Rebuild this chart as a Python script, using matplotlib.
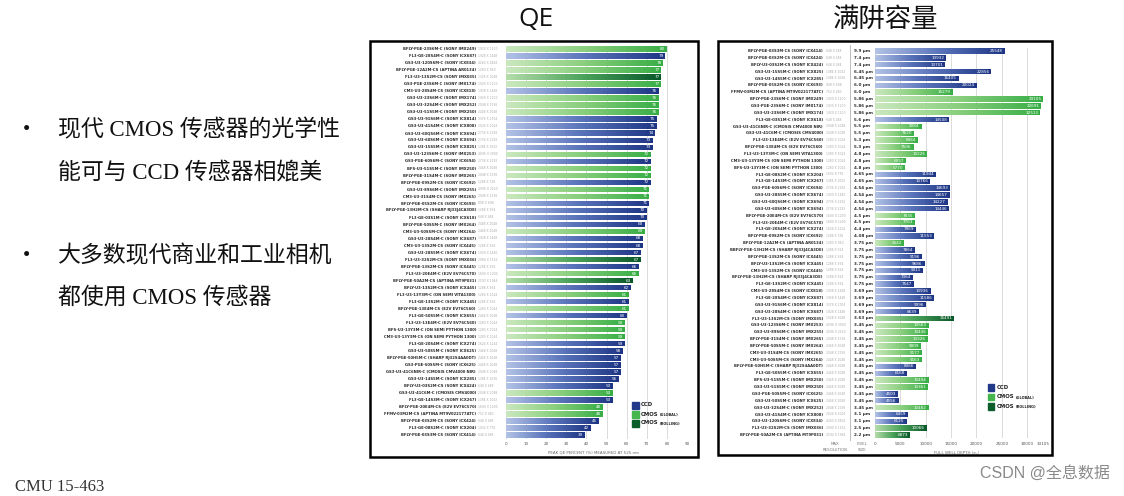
import numpy as np
import matplotlib
matplotlib.use("Agg")
import matplotlib.pyplot as plt
from matplotlib.colors import LinearSegmentedColormap
from matplotlib.patches import Rectangle
from matplotlib.lines import Line2D
from matplotlib.transforms import blended_transform_factory

# ---------------- data: QE chart ----------------
qe_names = [
    "BFLY-PGE-23S6M-C (SONY IMX249)", "FL3-GE-28S4M-C (SONY ICX687)", "GS3-U3-120S6M-C (SONY ICX834)",
    "BFLY-PGE-12A2M-CS (APTINA AR0134)", "FL3-U3-13S2M-CS (SONY IMX035)", "GS3-PGE-23S6M-C (SONY IMX174)",
    "CM3-U3-28S4M-CS (SONY ICX818)", "GS3-U3-23S6M-C (SONY IMX174)", "GS3-U3-32S4M-C (SONY IMX252)",
    "GS3-U3-51S5M-C (SONY IMX250)", "GS3-U3-91S6M-C (SONY ICX814)", "GS3-U3-41S4M-C (SONY ICX808)",
    "GS3-U3-60QS6M-C (SONY ICX694)", "GS3-U3-60S6M-C (SONY ICX694)", "GS3-U3-15S5M-C (SONY ICX825)",
    "GS3-U3-123S6M-C (SONY IMX253)", "GS3-PGE-60S6M-C (SONY ICX694)", "BFS-U3-51S5M-C (SONY IMX250)",
    "BFLY-PGE-31S4M-C (SONY IMX265)", "BFLY-PGE-09S2M-CS (SONY ICX692)", "GS3-U3-89S6M-C (SONY IMX255)",
    "CM3-U3-31S4M-CS (SONY IMX265)", "BFLY-PGE-05S2M-CS (SONY ICX693)", "BFLY-PGE-13H2M-CS (SHARP RJ33J4CA3DE)",
    "FL3-GE-03S1M-C (SONY ICX618)", "BFLY-PGE-50S5M-C (SONY IMX264)", "CM3-U3-50S5M-CS (SONY IMX264)",
    "GS3-U3-28S4M-C (SONY ICX687)", "CM3-U3-13S2M-CS (SONY ICX445)", "GS3-U3-28S5M-C (SONY ICX674)",
    "FL3-U3-32S2M-CS (SONY IMX036)", "BFLY-PGE-13S2M-CS (SONY ICX445)", "FL3-U3-20E4M-C (E2V EV76C570)",
    "BFLY-PGE-50A2M-CS (APTINA MT9P031)", "BFLY-U3-13S2M-CS (SONY ICX445)", "FL3-U3-13Y3M-C (ON SEMI VITA1300)",
    "FL3-GE-13S2M-C (SONY ICX445)", "BFLY-PGE-13E4M-CS (E2V EV76C560)", "FL3-GE-50S5M-C (SONY ICX655)",
    "FL3-U3-13E4M-C (E2V EV76C560)", "BFS-U3-13Y3M-C (ON SEMI PYTHON 1300)", "CM3-U3-13Y3M-CS (ON SEMI PYTHON 1300)",
    "FL3-GE-20S4M-C (SONY ICX274)", "GS3-U3-50S5M-C (SONY ICX625)", "BFLY-PGE-50H5M-C (SHARP RJ32S4AA0DT)",
    "GS3-PGE-50S5M-C (SONY ICX625)", "GS3-U3-41C6NIR-C (CMOSIS CMV4000 NIR)", "GS3-U3-14S5M-C (SONY ICX285)",
    "BFLY-U3-03S2M-CS (SONY ICX424)", "GS3-U3-41C6M-C (CMOSIS CMV4000)", "FL3-GE-14S3M-C (SONY ICX267)",
    "BFLY-PGE-20E4M-CS (E2V EV76C570)", "FFMV-03M2M-CS (APTINA MT9V022177ATC)", "BFLY-PGE-03S2M-CS (SONY ICX424)",
    "FL3-GE-08S2M-C (SONY ICX204)", "BFLY-PGE-03S3M-CS (SONY ICX414)",
]
qe_res = [
    "1920 X 1200", "1928 X 1448", "4240 X 2824", "1280 X 960", "1328 X 1048", "1920 X 1200",
    "1928 X 1448", "1920 X 1200", "2048 X 1536", "2448 X 2048", "3376 X 2704", "2024 X 2024",
    "2736 X 2192", "2736 X 2192", "1384 X 1032", "4096 X 3000", "2736 X 2192", "2448 X 2048",
    "2048 X 1536", "1288 X 728", "4096 X 2160", "2048 X 1536", "808 X 608", "1288 X 964",
    "648 X 488", "2448 X 2048", "2448 X 2048", "1928 X 1448", "1288 X 964", "1920 X 1440",
    "2080 X 1552", "1288 X 964", "1600 X 1200", "2592 X 1944", "1288 X 964", "1280 X 1024",
    "1288 X 964", "1280 X 1024", "2448 X 2048", "1280 X 1024", "1280 X 1024", "1280 X 1024",
    "1624 X 1224", "2448 X 2048", "2448 X 2048", "2448 X 2048", "2048 X 2048", "1384 X 1036",
    "648 X 488", "2048 X 2048", "1384 X 1032", "1600 X 1200", "752 X 480", "648 X 488",
    "1032 X 776", "648 X 488",
]
qe_values = [80, 79, 78, 77, 77, 77, 76, 76, 76, 76, 75, 75, 74, 73, 73, 72, 72, 72, 72, 72,
             71, 71, 71, 70, 70, 69, 69, 68, 68, 67, 67, 66, 66, 63, 62, 61, 61, 61, 60, 59,
             59, 59, 59, 58, 57, 57, 57, 56, 53, 53, 53, 48, 48, 46, 42, 39]
# C = CCD, G = CMOS (global), R = CMOS (rolling)
qe_types = list("GCGGRGCGGGCCCCCGCGGCGGCCCCGCCCRCGRCGCGCGGGCCCCCCCGCGGCCC")
qe_ticks = [0, 10, 20, 30, 40, 50, 60, 70, 80, 90]

# ---------------- data: full well chart ----------------
fwd_names = [
    "BFLY-PGE-03S3M-CS (SONY ICX414)", "BFLY-PGE-03S2M-CS (SONY ICX424)", "BFLY-U3-03S2M-CS (SONY ICX424)",
    "GS3-U3-15S5M-C (SONY ICX825)", "GS3-U3-14S5M-C (SONY ICX285)", "BFLY-PGE-05S2M-CS (SONY ICX693)",
    "FFMV-03M2M-CS (APTINA MT9V022177ATC)", "BFLY-PGE-23S6M-C (SONY IMX249)", "GS3-PGE-23S6M-C (SONY IMX174)",
    "GS3-U3-23S6M-C (SONY IMX174)", "FL3-GE-03S1M-C (SONY ICX618)", "GS3-U3-41C6NIR-C (CMOSIS CMV4000 NIR)",
    "GS3-U3-41C6M-C (CMOSIS CMV4000)", "FL3-U3-13E4M-C (E2V EV76C560)", "BFLY-PGE-13E4M-CS (E2V EV76C560)",
    "FL3-U3-13Y3M-C (ON SEMI VITA1300)", "CM3-U3-13Y3M-CS (ON SEMI PYTHON 1300)", "BFS-U3-13Y3M-C (ON SEMI PYTHON 1300)",
    "FL3-GE-08S2M-C (SONY ICX204)", "FL3-GE-14S3M-C (SONY ICX267)", "GS3-PGE-60S6M-C (SONY ICX694)",
    "GS3-U3-28S5M-C (SONY ICX674)", "GS3-U3-60QS6M-C (SONY ICX694)", "GS3-U3-60S6M-C (SONY ICX694)",
    "BFLY-PGE-20E4M-CS (E2V EV76C570)", "FL3-U3-20E4M-C (E2V EV76C570)", "FL3-GE-20S4M-C (SONY ICX274)",
    "BFLY-PGE-09S2M-CS (SONY ICX692)", "BFLY-PGE-12A2M-CS (APTINA AR0134)", "BBFLY-PGE-13H2M-CS (SHARP RJ33J4CA3DE)",
    "BFLY-PGE-13S2M-CS (SONY ICX445)", "BFLY-U3-13S2M-CS (SONY ICX445)", "CM3-U3-13S2M-CS (SONY ICX445)",
    "BFLY-PGE-13H2M-CS (SHARP RJ33J4CA3DE)", "FL3-GE-13S2M-C (SONY ICX445)", "CM3-U3-28S4M-CS (SONY ICX818)",
    "FL3-GE-28S4M-C (SONY ICX687)", "GS3-U3-91S6M-C (SONY ICX814)", "GS3-U3-28S4M-C (SONY ICX687)",
    "FL3-U3-13S2M-CS (SONY IMX035)", "GS3-U3-123S6M-C (SONY IMX253)", "GS3-U3-89S6M-C (SONY IMX255)",
    "BFLY-PGE-31S4M-C (SONY IMX265)", "BFLY-PGE-50S5M-C (SONY IMX264)", "CM3-U3-31S4M-CS (SONY IMX265)",
    "CM3-U3-50S5M-CS (SONY IMX264)", "BFLY-PGE-50H5M-C (SHARP RJ32S4AA0DT)", "FL3-GE-50S5M-C (SONY ICX655)",
    "BFS-U3-51S5M-C (SONY IMX250)", "GS3-U3-51S5M-C (SONY IMX250)", "GS3-PGE-50S5M-C (SONY ICX625)",
    "GS3-U3-50S5M-C (SONY ICX625)", "GS3-U3-32S4M-C (SONY IMX252)", "GS3-U3-41S4M-C (SONY ICX808)",
    "GS3-U3-120S6M-C (SONY ICX834)", "FL3-U3-32S2M-CS (SONY IMX036)", "BFLY-PGE-50A2M-CS (APTINA MT9P031)",
]
fwd_res = [
    "648 X 488", "648 X 488", "648 X 488", "1384 X 1032", "1384 X 1036", "808 X 608",
    "752 X 480", "1920 X 1200", "1920 X 1200", "1920 X 1200", "648 X 488", "2048 X 2048",
    "2048 X 2048", "1280 X 1024", "1280 X 1024", "1280 X 1024", "1280 X 1024", "1280 X 1024",
    "1032 X 776", "1384 X 1032", "2736 X 2192", "1920 X 1440", "2736 X 2192", "2736 X 2192",
    "1600 X 1200", "1600 X 1200", "1624 X 1224", "1288 X 728", "1280 X 960", "1288 X 964",
    "1288 X 964", "1288 X 964", "1288 X 964", "1288 X 964", "1288 X 964", "1928 X 1448",
    "1928 X 1448", "3376 X 2704", "1928 X 1448", "1328 X 1048", "4096 X 3000", "4096 X 2160",
    "2048 X 1536", "2448 X 2048", "2048 X 1536", "2448 X 2048", "2448 X 2048", "2448 X 2048",
    "2448 X 2048", "2448 X 2048", "2448 X 2048", "2448 X 2048", "2048 X 1536", "2024 X 2024",
    "4240 X 2824", "2080 X 1552", "2592 X 1944",
]
fwd_pixel = ["9.9", "7.4", "7.4", "6.45", "6.45", "6.0", "6.0", "5.86", "5.86", "5.86", "5.6", "5.5",
             "5.5", "5.3", "5.3", "4.8", "4.8", "4.8", "4.65", "4.65", "4.54", "4.54", "4.54", "4.54",
             "4.5", "4.5", "4.4", "4.08", "3.75", "3.75", "3.75", "3.75", "3.75", "3.75", "3.75", "3.69",
             "3.69", "3.69", "3.69", "3.63", "3.45", "3.45", "3.45", "3.45", "3.45", "3.45", "3.45", "3.45",
             "3.45", "3.45", "3.45", "3.45", "3.45", "3.1", "3.1", "2.5", "2.2"]
fwd_values = [25548, 13932, 13701, 22856, 16405, 20024, 15279, 33105, 32691, 32513, 14508, 9084,
              7620, 8364, 7506, 10226, 6057, 5770, 11944, 10766, 14693, 14657, 14227, 14446,
              7835, 7763, 7969, 11553, 5542, 7864, 9196, 9686, 9311, 7364, 7547, 10936,
              11586, 9996, 8639, 15491, 10563, 10436, 10326, 9009, 9177, 9163, 8066, 6168,
              10494, 10361, 4503, 4556, 10482, 6459, 6125, 10066, 6873]
fwd_types = list("CCCCCCGGGGCGGGGGGGCCCCCCGGCCGCCCCCCCCCCRGGGGGGCCGGCCGCCRR")
fwd_ticks = [0, 5000, 10000, 15000, 20000, 25000, 30000, 33105]

legend_labels = [("CCD", ""), ("CMOS", "(GLOBAL)"), ("CMOS", "(ROLLING)")]

# ---------------- styling ----------------
W, H = 1124, 496
fig = plt.figure(figsize=(W / 100, H / 100), dpi=100)
fig.patch.set_facecolor("white")
renderer = fig.canvas.get_renderer()

def fx(px):
    return px / W

def fy(py):
    return 1 - py / H

cmaps = {
    "C": LinearSegmentedColormap.from_list("ccd", ["#b3c3e6", "#5a74bb", "#1d3584"]),
    "G": LinearSegmentedColormap.from_list("glob", ["#cbe8bf", "#8acf7e", "#37ae45"]),
    "R": LinearSegmentedColormap.from_list("roll", ["#b5ddaa", "#4ba35a", "#09582a"]),
}
solid = {"C": "#22398a", "G": "#3fb24a", "R": "#0b5d2c"}
grad = np.linspace(0, 1, 256).reshape(1, -1)


def bar_chart(ax, names, res, vals, types, ticks, xmax, name_x, res_x, val_off):
    n = len(vals)
    y = np.arange(n)
    h = 0.78
    bars = ax.barh(y, vals, height=h, color=[solid[t] for t in types], zorder=2, linewidth=0)
    for b, v, t in zip(bars, vals, types):
        yc = b.get_y() + b.get_height() / 2
        im = ax.imshow(grad, cmap=cmaps[t], extent=(0, v, yc + h / 2, yc - h / 2),
                       aspect="auto", interpolation="bilinear", zorder=3)
        im.set_clip_path(b)
        ax.text(v - val_off, yc, str(v), ha="right", va="center", color="white",
                fontsize=3.0, zorder=4)
    ax.set_xlim(0, xmax)
    ax.set_ylim(n - 0.5, -0.5)
    ax.set_xticks(ticks)
    ax.set_xticklabels([str(t) for t in ticks], fontsize=3.0, color="#555555")
    ax.set_yticks([])
    ax.tick_params(axis="x", length=0, pad=2.5)
    for s in ax.spines.values():
        s.set_visible(False)
    ax.grid(axis="x", color="#d6d6d6", linewidth=0.6, zorder=0)
    ax.set_axisbelow(True)
    tr = blended_transform_factory(fig.transFigure, ax.transData)
    for i in range(n):
        ax.text(fx(name_x), i, names[i], transform=tr, ha="right", va="center",
                fontsize=2.7, color="#2b2b2b", fontweight="bold")
        ax.text(fx(res_x), i, res[i], transform=tr, ha="left", va="center",
                fontsize=2.2, color="#a8a8a8")
    return tr


# ---------------- left chart: QE ----------------
ax1 = fig.add_axes([fx(506), fy(438.5), (687 - 506) / W, (438.5 - 45.5) / H])
bar_chart(ax1, qe_names, qe_res, qe_values, qe_types, qe_ticks, 90, 476, 478.5, 0.7)
fig.text(fx(594), fy(453), "PEAK QE PERCENT (%) MEASURED AT 525 nm", ha="center", va="center",
         fontsize=2.9, color="#666666")
fig.add_artist(Rectangle((fx(370), fy(457)), (698 - 370) / W, (457 - 41) / H,
                         transform=fig.transFigure, fill=False, ec="black", lw=1.8))

# ---------------- right chart: full well ----------------
ax2 = fig.add_axes([fx(875), fy(438.4), (1043 - 875) / W, (438.4 - 47.6) / H])
tr2 = bar_chart(ax2, fwd_names, fwd_res, fwd_values, fwd_types, fwd_ticks, 33105, 823, 825.5, 300)
for i, p in enumerate(fwd_pixel):
    ax2.text(fx(854), i, p + " µm", transform=tr2, ha="left", va="center",
             fontsize=3.0, color="#2b2b2b", fontweight="bold")
fig.add_artist(Line2D([fx(850), fx(850)], [fy(45), fy(440)], transform=fig.transFigure,
                      color="#bdbdbd", lw=0.7))
fig.text(fx(835), fy(447), "MAX\nRESOLUTION", ha="center", va="center", fontsize=2.8,
         color="#777777", linespacing=1.5)
fig.text(fx(862), fy(447), "PIXEL\nSIZE", ha="center", va="center", fontsize=2.8,
         color="#777777", linespacing=1.5)
fig.text(fx(957), fy(452.5), "FULL WELL DEPTH (e-)", ha="center", va="center",
         fontsize=2.9, color="#666666")
fig.add_artist(Rectangle((fx(718), fy(455)), (1052 - 718) / W, (455 - 41) / H,
                         transform=fig.transFigure, fill=False, ec="black", lw=1.8))

# ---------------- legends ----------------
def draw_legend(sq_x, txt_x, ys, size):
    for (main, sub), t, yy in zip(legend_labels, ["C", "G", "R"], ys):
        fig.add_artist(Rectangle((fx(sq_x), fy(yy + size / 2)), size / W, size / H,
                                 transform=fig.transFigure,
                                 color=solid[t] if t != "G" else "#45b64d"))
        tm = fig.text(fx(txt_x), fy(yy), main, ha="left", va="center", fontsize=3.9,
                      color="#222222", fontweight="bold")
        if sub:
            bb = tm.get_window_extent(renderer=renderer)
            fig.text((bb.x1 + 1.5) / W, fy(yy + 0.4), sub, ha="left", va="center", fontsize=2.5,
                     color="#222222", fontweight="bold")

draw_legend(631.5, 641, [405, 414, 423], 7)
draw_legend(987.5, 997, [387.5, 397, 406.5], 6.5)

# ---------------- titles and slide text ----------------
fig.text(fx(536), fy(19), "QE", ha="center", va="center", fontsize=19,
         family=["Open Sans", "DejaVu Sans"], color="#111111")
fig.text(fx(886), fy(19), "满阱容量", ha="center", va="center", fontsize=19,
         family=["Noto Sans CJK SC"], color="#111111")

bfam = ["Liberation Serif", "Noto Sans CJK SC"]
fig.text(fx(23), fy(130), "•", ha="left", va="center", fontsize=15, family=bfam, color="#111111")
fig.text(fx(58), fy(130), "现代 CMOS 传感器的光学性", ha="left", va="center", fontsize=16.5,
         family=bfam, color="#111111")
fig.text(fx(58), fy(173), "能可与 CCD 传感器相媲美", ha="left", va="center", fontsize=16.5,
         family=bfam, color="#111111")
fig.text(fx(23), fy(256), "•", ha="left", va="center", fontsize=15, family=bfam, color="#111111")
fig.text(fx(58), fy(256), "大多数现代商业和工业相机", ha="left", va="center", fontsize=16.5,
         family=bfam, color="#111111")
fig.text(fx(58), fy(298), "都使用 CMOS 传感器", ha="left", va="center", fontsize=16.5,
         family=bfam, color="#111111")

fig.text(fx(15), fy(487), "CMU 15-463", ha="left", va="center", fontsize=12,
         family=["Liberation Serif"], color="#333333")
fig.text(fx(1110), fy(473), "CSDN @全息数据", ha="right", va="center", fontsize=11.5,
         family=["Liberation Sans", "Noto Sans CJK SC"], color="#8a8a8a")

fig.savefig("out.png", dpi=100, facecolor="white")
